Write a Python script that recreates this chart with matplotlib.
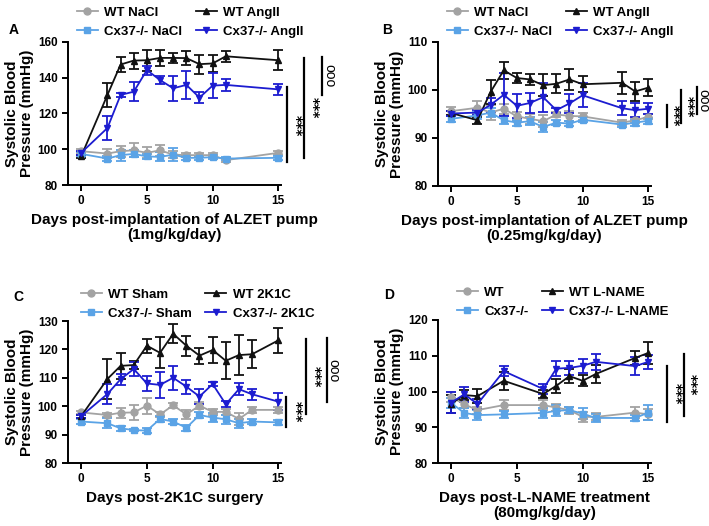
import matplotlib
matplotlib.use('Agg')
import matplotlib.pyplot as plt
from matplotlib.lines import Line2D

plt.rcParams['font.family'] = ['Liberation Sans', 'DejaVu Sans']
plt.rcParams['font.weight'] = 'bold'

GRAY = '#a3a3a3'
LIGHTBLUE = '#5aa3e6'
BLUE = '#1c1cd0'
BLACK = '#111111'

# panel A: AngII 1mg/kg/day
days_a = [0, 2, 3, 4, 5, 6, 7, 8, 9, 10, 11, 15]
a_wt_nacl = [98.9, 97.6, 98.9, 99.4, 98.0, 99.4, 97.0, 96.7, 96.7, 96.7, 93.9, 98.0]
a_wt_nacl_err = [1, 2.5, 3, 4, 3, 3, 2, 1, 1, 1, 1, 1]
a_ko_nacl = [97.4, 94.8, 96.7, 97.4, 96.0, 95.7, 97.0, 95.2, 95.2, 95.6, 94.8, 95.2]
a_ko_nacl_err = [1, 1.5, 3, 2, 1.5, 2.5, 3.5, 1, 1, 1, 1, 1]
a_wt_ang = [96.0, 130.4, 147.4, 149.6, 149.8, 151.1, 151.1, 151.0, 147.6, 148.0, 152.0, 149.8]
a_wt_ang_err = [1, 6.5, 4, 4.5, 6, 4.3, 3, 4, 5.3, 4.6, 3, 5.5]
a_ko_ang = [98.0, 111.9, 130.4, 132.2, 144.3, 138.7, 134.1, 136.0, 128.9, 135.6, 136.0, 133.5]
a_ko_ang_err = [1, 6.9, 1, 5.4, 2.5, 2, 7, 8, 3, 6.8, 3.5, 3]

# panel B: AngII 0.25mg/kg/day
days_b = [0, 2, 3, 4, 5, 6, 7, 8, 9, 10, 13, 14, 15]
b_wt_nacl = [95.6, 96.3, 95.3, 96.1, 94.5, 94.0, 93.5, 94.9, 94.6, 94.5, 93.2, 93.7, 94.4]
b_wt_nacl_err = [0.8, 1.4, 1.5, 1, 1, 1, 1.2, 0.5, 1, 0.7, 0.5, 0.5, 0.5]
b_ko_nacl = [94.0, 94.7, 95.3, 93.7, 93.2, 93.5, 92.3, 93.2, 93.0, 93.8, 92.8, 93.2, 93.6]
b_ko_nacl_err = [0.6, 0.8, 1, 0.8, 0.6, 0.8, 1, 0.5, 0.6, 0.5, 0.6, 0.6, 0.6]
b_wt_ang = [95.2, 93.7, 99.6, 104.1, 102.5, 102.2, 101.0, 101.3, 102.2, 101.2, 101.5, 99.7, 100.5]
b_wt_ang_err = [0.5, 0.7, 2.5, 1.8, 1, 1.2, 2.3, 2, 2.2, 1.7, 2.3, 2, 1.7]
b_ko_ang = [95.1, 95.3, 96.9, 99.0, 96.7, 97.3, 98.5, 95.8, 97.2, 98.9, 96.2, 95.8, 96.1]
b_ko_ang_err = [0.5, 0.5, 1.5, 4.5, 2.5, 2, 3, 0.5, 2, 2.5, 1.5, 1.5, 1.2]

# panel C: 2K1C surgery
days_c = [0, 2, 3, 4, 5, 6, 7, 8, 9, 10, 11, 12, 13, 15]
c_wt_sham = [97.8, 96.9, 97.7, 97.8, 100.2, 97.1, 100.3, 97.1, 100.2, 98.0, 98.0, 95.5, 98.7, 98.7]
c_wt_sham_err = [0.5, 0.8, 1.7, 2.5, 2.8, 0.8, 0.8, 1.5, 1.3, 1, 1, 2, 1, 1]
c_ko_sham = [94.6, 94.0, 92.2, 91.6, 91.4, 95.5, 94.6, 92.4, 96.9, 96.0, 95.4, 94.0, 94.6, 94.3]
c_ko_sham_err = [0.8, 1.7, 1, 0.5, 1, 1, 0.8, 1, 1, 1.5, 1.5, 1.5, 0.8, 1]
c_wt_2k1c = [96.5, 109.6, 114.2, 114.5, 121.3, 118.8, 125.5, 121.3, 117.8, 119.8, 116.0, 118.0, 118.3, 123.2]
c_wt_2k1c_err = [0.5, 6.9, 4.5, 1.5, 2.5, 5.5, 3.3, 3.5, 2.8, 4.5, 6.5, 7, 5, 4.3]
c_ko_2k1c = [96.5, 104.3, 109.5, 113.1, 108.0, 107.5, 110.0, 106.9, 103.4, 107.8, 100.7, 106.0, 104.2, 101.6]
c_ko_2k1c_err = [0.5, 3.5, 2, 2.5, 2.5, 4.5, 4.3, 2.5, 2.5, 0.7, 1, 2, 2, 3]

# panel D: L-NAME
days_d = [0, 1, 2, 4, 7, 8, 9, 10, 11, 14, 15]
d_wt = [98.5, 96.4, 94.8, 96.2, 96.2, 95.5, 94.8, 92.9, 92.9, 94.1, 93.6]
d_wt_err = [1.5, 1, 1, 1.5, 1.3, 1, 1, 1.5, 1, 1.5, 1.5]
d_ko = [96.8, 94.0, 93.4, 93.6, 94.0, 94.6, 94.8, 93.8, 92.6, 92.6, 94.1]
d_ko_err = [1.5, 1.5, 1.5, 1, 1.5, 1.5, 0.8, 1.5, 1, 0.8, 2]
d_wt_lname = [96.6, 99.0, 98.7, 103.0, 99.3, 101.6, 104.3, 103.0, 104.9, 109.4, 110.8]
d_wt_lname_err = [2.5, 1.5, 2, 2.5, 1, 2, 2, 1.5, 2.5, 2, 3]
d_ko_lname = [96.9, 99.2, 96.5, 105.7, 100.7, 106.4, 106.6, 107.2, 108.3, 107.1, 108.3]
d_ko_lname_err = [3, 2, 1.5, 1.5, 1.5, 2, 2, 2, 2.3, 2.5, 2]

labels_a = ['WT NaCl', 'Cx37-/- NaCl', 'WT AngII', 'Cx37-/- AngII']
labels_c = ['WT Sham', 'Cx37-/- Sham', 'WT 2K1C', 'Cx37-/- 2K1C']
labels_d = ['WT', 'Cx37-/-', 'WT L-NAME', 'Cx37-/- L-NAME']

styles = [(GRAY, 'o', 5), (LIGHTBLUE, 's', 5), (BLACK, '^', 4.5), (BLUE, 'v', 5)]

W, H = 709, 526
fig = plt.figure(figsize=(W / 100, H / 100), dpi=100)


def px_axes(left, top, right, bottom):
    return fig.add_axes([left / W, 1 - bottom / H, (right - left) / W, (bottom - top) / H])


def panel(ax, days, series, labels, ylim, ystep, xlabel, letter, leg_xy):
    handles = []
    for (vals, errs), (col, mk, ms), lab in zip(series, styles, labels):
        ax.errorbar(days, vals, yerr=errs, color=col, marker=mk, ms=ms,
                    lw=1.3, elinewidth=1.3, capsize=3.5, capthick=1.3,
                    clip_on=False)
        handles.append(Line2D([], [], color=col, marker=mk, ms=ms, lw=1.3))
    ax.set_xlim(-1, 15.2)
    ax.set_ylim(*ylim)
    ax.set_xticks([0, 5, 10, 15])
    ax.set_yticks(range(ylim[0], ylim[1] + 1, ystep))
    for s in ['top', 'right']:
        ax.spines[s].set_visible(False)
    for s in ['left', 'bottom']:
        ax.spines[s].set_linewidth(1.4)
    ax.tick_params(width=1.4, length=4, labelsize=8.5)
    ax.set_ylabel('Systolic Blood\nPressure (mmHg)', fontsize=11, fontweight='bold',
                  linespacing=1.05, labelpad=3)
    ax.set_xlabel(xlabel, fontsize=11, fontweight='bold', linespacing=1.1, labelpad=4)
    fig.text(letter[0] / W, 1 - letter[1] / H, letter[2], fontsize=10,
             fontweight='bold', va='center', ha='left')
    ax.legend(handles, labels, loc='upper left', ncol=2, frameon=False,
              bbox_to_anchor=(leg_xy[0] / W, 1 - leg_xy[1] / H),
              bbox_transform=fig.transFigure, fontsize=9.5, borderpad=0,
              handlelength=1.6, handletextpad=0.5, columnspacing=1.0,
              labelspacing=0.5)


def sig(ax, x, y0, y1, xt, yt, txt):
    ax.plot([x, x], [y0, y1], color='black', lw=1.6, clip_on=False)
    if txt == '***':
        ax.text(xt, yt, txt, rotation=-90, ha='center', va='center', fontsize=10,
                fontweight='bold', family='DejaVu Sans', clip_on=False)
    else:
        ax.text(xt, yt, txt, rotation=-90, ha='center', va='center', fontsize=10,
                fontweight='normal', clip_on=False)


ax_a = px_axes(68, 42, 281, 185)
panel(ax_a, days_a,
      [(a_wt_nacl, a_wt_nacl_err), (a_ko_nacl, a_ko_nacl_err),
       (a_wt_ang, a_wt_ang_err), (a_ko_ang, a_ko_ang_err)],
      labels_a, (80, 160), 20,
      'Days post-implantation of ALZET pump\n(1mg/kg/day)', (9, 30, 'A'), (70, 0))
sig(ax_a, 15.65, 93, 135, 16.3, 113, '***')
sig(ax_a, 16.95, 95.2, 151, 17.6, 123, '***')
sig(ax_a, 18.3, 130.4, 151.6, 18.9, 141, 'ooo')

ax_b = px_axes(438, 42, 651, 186)
panel(ax_b, days_b,
      [(b_wt_nacl, b_wt_nacl_err), (b_ko_nacl, b_ko_nacl_err),
       (b_wt_ang, b_wt_ang_err), (b_ko_ang, b_ko_ang_err)],
      labels_a, (80, 110), 10,
      'Days post-implantation of ALZET pump\n(0.25mg/kg/day)', (382, 30, 'B'), (440, 0))
sig(ax_b, 16.45, 92.3, 96.9, 16.95, 94.6, '***')
sig(ax_b, 17.5, 93.1, 100.0, 18.0, 96.6, '***')
sig(ax_b, 18.67, 95.0, 100.6, 19.15, 97.8, 'ooo')

ax_c = px_axes(68, 321, 281, 463)
panel(ax_c, days_c,
      [(c_wt_sham, c_wt_sham_err), (c_ko_sham, c_ko_sham_err),
       (c_wt_2k1c, c_wt_2k1c_err), (c_ko_2k1c, c_ko_2k1c_err)],
      labels_c, (80, 130), 10,
      'Days post-2K1C surgery', (13, 297, 'C'), (74, 282))
sig(ax_c, 15.6, 92.7, 103.2, 16.3, 98.0, '***')
sig(ax_c, 17.1, 97.3, 123.7, 17.8, 110.5, '***')
sig(ax_c, 18.7, 101.5, 124.0, 19.2, 112.5, 'ooo')

ax_d = px_axes(438, 320, 651, 463)
panel(ax_d, days_d,
      [(d_wt, d_wt_err), (d_ko, d_ko_err),
       (d_wt_lname, d_wt_lname_err), (d_ko_lname, d_ko_lname_err)],
      labels_d, (80, 120), 10,
      'Days post-L-NAME treatment\n(80mg/kg/day)', (384, 295, 'D'), (450, 280))
sig(ax_d, 16.45, 91.5, 107.1, 17.05, 99.3, '***')
sig(ax_d, 17.7, 93.1, 110.5, 18.25, 101.8, '***')

fig.savefig('out.png', dpi=100)
